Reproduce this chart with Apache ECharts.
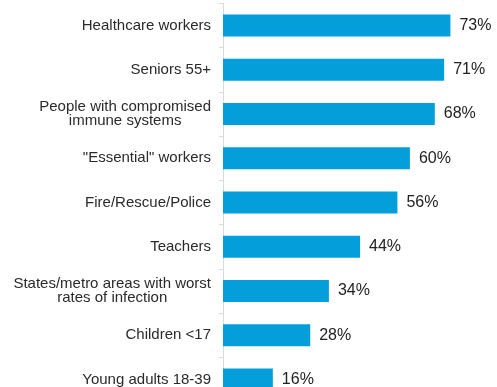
<!DOCTYPE html>
<html>
<head>
<meta charset="utf-8">
<style>
  html, body { margin: 0; padding: 0; background: #ffffff; }
  #chart { width: 497px; height: 387px; }
</style>
<script src="https://cdn.jsdelivr.net/npm/echarts@6/dist/echarts.min.js"></script>
</head>
<body>
<div id="chart"></div>
<script>
// Groups that should be prioritised, share of respondents (%)
const categories = [
  'Healthcare workers',
  'Seniors 55+',
  'People with compromised\nimmune systems',
  '"Essential" workers',
  'Fire/Rescue/Police',
  'Teachers',
  'States/metro areas with worst\nrates of infection',
  'Children <17',
  'Young adults 18-39'
];
const shares = [73, 71, 68, 60, 56, 44, 34, 28, 16];

const FONT = '"Liberation Sans", Arial, Helvetica, sans-serif';

const chart = echarts.init(document.getElementById('chart'), null, { renderer: 'canvas' });

chart.setOption({
  animation: false,
  backgroundColor: '#ffffff',
  // the last row runs past the bottom edge of the canvas
  grid: {
    left: 223, width: 249.2, top: 3.4, height: 398.3,
    containLabel: false,
    outerBoundsMode: 'none'
  },
  xAxis: {
    type: 'value',
    min: 0,
    max: 80,
    show: false
  },
  yAxis: {
    type: 'category',
    data: categories,
    inverse: true,
    axisLine: { show: true, lineStyle: { color: '#d9d9d9', width: 1 } },
    axisTick: { show: true, length: 4, lineStyle: { color: '#d9d9d9' } },
    splitLine: { show: false },
    axisLabel: {
      margin: 12,
      fontFamily: FONT,
      fontSize: 15,
      lineHeight: 14,
      color: '#2a2a2a',
      formatter: function (v) {
        return v.split('\n').map(function (s) { return '{c|' + s + '}'; }).join('\n');
      },
      rich: {
        c: { align: 'center', fontFamily: FONT, fontSize: 15, lineHeight: 14, color: '#2a2a2a' }
      }
    }
  },
  series: [{
    type: 'bar',
    data: shares,
    barWidth: 22,
    itemStyle: { color: '#049fda' },
    label: {
      show: true,
      position: 'right',
      distance: 9,
      formatter: '{c}%',
      fontFamily: FONT,
      fontSize: 16,
      color: '#222222'
    }
  }]
});
</script>
</body>
</html>
